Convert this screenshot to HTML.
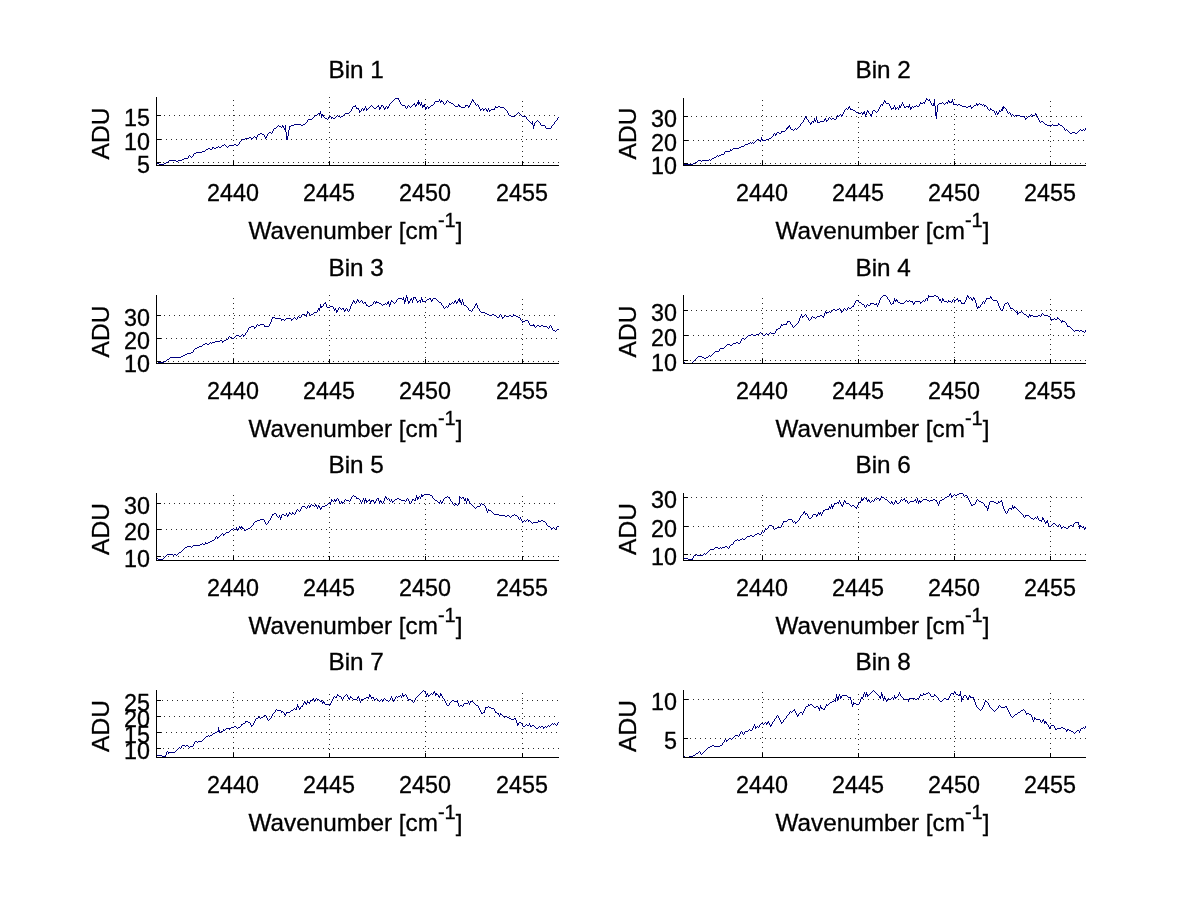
<!DOCTYPE html><html><head><meta charset="utf-8"><title>Bins</title><style>
html,body{margin:0;padding:0;background:#fff}body{width:1200px;height:901px;overflow:hidden}svg{display:block}text{font-family:"Liberation Sans",sans-serif;fill:#000;stroke:#000;stroke-width:.3px}
.ax{stroke:#000;stroke-width:1;shape-rendering:crispEdges;fill:none}.gr{stroke:#2b2b2b;stroke-width:1;stroke-dasharray:1 4;shape-rendering:crispEdges;fill:none}.cv{stroke:#00007f;stroke-width:1;fill:none;shape-rendering:crispEdges;transform:translate(.5px,0)}
</style></head><body>
<svg width="1200" height="901" viewBox="0 0 1200 901">
<rect width="1200" height="901" fill="#fff"/>
<g><line class="gr" x1="233.5" y1="161" x2="233.5" y2="97"/><line class="gr" x1="329.5" y1="158" x2="329.5" y2="97"/><line class="gr" x1="425.5" y1="160" x2="425.5" y2="97"/><line class="gr" x1="522.5" y1="157" x2="522.5" y2="97"/><line class="gr" x1="163" y1="162.5" x2="559" y2="162.5"/><line class="gr" x1="161" y1="139.5" x2="559" y2="139.5"/><line class="gr" x1="164" y1="115.5" x2="559" y2="115.5"/><path class="cv" d="M156 162v1M157 163v1M158 163v1M159 164v1M160 164v1M161 164v1M162 164v1M163 164v1M164 163v1M165 163v1M166 162v1M167 162v1M168 161v1M169 160v1M170 160v1M171 160v1M172 160v1M173 160v1M174 160v1M175 160v1M176 161v1M177 161v1M178 160v1M179 160v1M180 160v1M181 160v1M182 159v1M183 159v1M184 158v1M185 158v1M186 158v1M187 158v1M188 156v2M189 155v1M190 156v1M191 157v1M192 156v1M193 154v2M194 153v1M195 153v1M196 152v1M197 152v1M198 152v1M199 152v1M200 152v1M201 152v1M202 151v1M203 151v1M204 151v1M205 150v1M206 149v1M207 149v1M208 148v1M209 148v1M210 149v1M211 149v1M212 147v2M213 147v1M214 148v1M215 148v1M216 147v1M217 147v1M218 146v1M219 147v1M220 147v1M221 146v1M222 145v1M223 145v1M224 144v1M225 145v1M226 146v1M227 147v1M228 146v1M229 145v1M230 145v1M231 145v1M232 145v1M233 145v1M234 144v1M235 144v1M236 145v1M237 145v1M238 144v1M239 142v2M240 141v1M241 140v1M242 139v1M243 139v1M244 139v1M245 138v1M246 138v1M247 138v1M248 138v1M249 137v1M250 137v1M251 138v2M252 138v1M253 137v1M254 136v1M255 137v1M256 137v2M257 135v2M258 134v1M259 134v1M260 133v1M261 133v1M262 134v1M263 134v1M264 135v2M265 137v2M266 136v2M267 134v2M268 133v1M269 132v1M270 132v1M271 133v1M272 131v2M273 129v2M274 128v1M275 128v1M276 127v1M277 126v1M278 125v1M279 126v1M280 126v1M281 127v1M282 125v2M283 126v2M284 128v2M285 125v7M286 132v8M287 136v4M288 130v6M289 126v4M290 126v1M291 125v1M292 125v1M293 125v1M294 124v1M295 124v1M296 124v1M297 124v1M298 124v1M299 124v1M300 124v1M301 125v1M302 125v1M303 124v1M304 124v1M305 123v1M306 122v1M307 120v2M308 119v1M309 119v1M310 119v1M311 119v1M312 118v1M313 117v1M314 116v1M315 115v1M316 115v1M317 114v1M318 113v1M319 113v2M320 111v3M321 114v4M322 114v2M323 115v2M324 117v1M325 118v1M326 118v1M327 119v1M328 117v2M329 116v1M330 116v1M331 117v2M332 117v1M333 118v1M334 118v1M335 117v1M336 116v1M337 115v1M338 116v1M339 116v1M340 117v1M341 116v1M342 116v1M343 115v1M344 114v1M345 113v1M346 113v1M347 113v1M348 113v1M349 112v1M350 111v1M351 109v2M352 107v2M353 106v1M354 106v1M355 105v2M356 107v2M357 108v1M358 108v2M359 110v3M360 111v1M361 109v2M362 108v1M363 109v2M364 108v2M365 106v2M366 108v3M367 109v1M368 108v1M369 107v1M370 106v1M371 105v1M372 106v1M373 107v1M374 108v1M375 108v1M376 107v1M377 106v1M378 105v2M379 107v3M380 107v2M381 105v2M382 105v1M383 106v2M384 108v2M385 107v2M386 106v1M387 107v2M388 106v2M389 104v2M390 103v1M391 102v1M392 101v1M393 100v1M394 99v1M395 98v1M396 98v1M397 98v1M398 98v2M399 100v2M400 102v2M401 104v1M402 105v1M403 105v1M404 105v1M405 106v2M406 108v1M407 106v2M408 105v1M409 106v1M410 107v1M411 106v1M412 105v1M413 104v1M414 103v2M415 105v2M416 104v2M417 102v2M418 100v5M419 102v2M420 104v2M421 102v3M422 105v3M423 105v2M424 104v3M425 107v3M426 107v2M427 106v1M428 107v2M429 107v1M430 106v1M431 105v1M432 105v1M433 104v1M434 102v2M435 101v1M436 101v1M437 101v1M438 101v1M439 99v2M440 101v2M441 100v2M442 101v1M443 102v2M444 104v1M445 103v1M446 101v2M447 100v1M448 101v1M449 102v1M450 102v1M451 103v1M452 103v1M453 104v1M454 105v1M455 106v1M456 106v1M457 106v1M458 104v2M459 105v2M460 106v1M461 107v1M462 107v1M463 107v1M464 107v1M465 105v2M466 105v1M467 105v1M468 106v2M469 105v2M470 103v2M471 101v2M472 99v2M473 100v2M474 102v1M475 103v2M476 105v1M477 104v1M478 105v2M479 107v2M480 109v2M481 109v1M482 108v1M483 109v2M484 109v1M485 108v1M486 109v2M487 110v2M488 108v2M489 110v2M490 110v1M491 109v1M492 109v1M493 109v1M494 108v2M495 106v2M496 107v1M497 107v1M498 106v1M499 106v1M500 107v1M501 107v1M502 107v1M503 107v1M504 108v1M505 109v1M506 110v1M507 111v2M508 113v2M509 115v1M510 115v1M511 116v1M512 116v1M513 116v1M514 116v1M515 115v1M516 114v1M517 113v1M518 112v1M519 113v1M520 114v1M521 115v1M522 116v1M523 116v1M524 116v1M525 116v1M526 117v2M527 119v1M528 120v1M529 121v1M530 122v1M531 123v1M532 121v4M533 125v4M534 123v3M535 122v1M536 121v1M537 120v1M538 121v1M539 122v1M540 123v2M541 125v1M542 125v1M543 125v1M544 125v1M545 126v2M546 128v1M547 128v1M548 128v1M549 128v1M550 128v1M551 126v2M552 125v1M553 124v1M554 122v2M555 121v1M556 120v1M557 118v2M558 117v1"/><line class="ax" x1="156.5" y1="97" x2="156.5" y2="166"/><line class="ax" x1="156" y1="165.5" x2="559" y2="165.5"/><line class="ax" x1="233.5" y1="161" x2="233.5" y2="166"/><line class="ax" x1="329.5" y1="161" x2="329.5" y2="166"/><line class="ax" x1="425.5" y1="161" x2="425.5" y2="166"/><line class="ax" x1="522.5" y1="161" x2="522.5" y2="166"/><line class="ax" x1="156" y1="115.5" x2="161" y2="115.5"/><text x="150" y="126" font-size="23.33" text-anchor="end">15</text><line class="ax" x1="156" y1="139.5" x2="161" y2="139.5"/><text x="150" y="150" font-size="23.33" text-anchor="end">10</text><line class="ax" x1="156" y1="162.5" x2="161" y2="162.5"/><text x="150" y="173" font-size="23.33" text-anchor="end">5</text><text x="233" y="200.5" font-size="23.33" text-anchor="middle">2440</text><text x="329" y="200.5" font-size="23.33" text-anchor="middle">2445</text><text x="425" y="200.5" font-size="23.33" text-anchor="middle">2450</text><text x="522" y="200.5" font-size="23.33" text-anchor="middle">2455</text><text x="356.2" y="77.8" font-size="24.3" text-anchor="middle">Bin 1</text><text x="355.5" y="238.5" font-size="24.3" text-anchor="middle">Wavenumber [cm<tspan font-size="20" dy="-11.5">-1</tspan><tspan dy="11.5">]</tspan></text><text transform="translate(109,133.5) rotate(-90)" font-size="24.6" text-anchor="middle">ADU</text></g>
<g><line class="gr" x1="762.5" y1="161" x2="762.5" y2="98"/><line class="gr" x1="858.5" y1="158" x2="858.5" y2="98"/><line class="gr" x1="954.5" y1="160" x2="954.5" y2="98"/><line class="gr" x1="1050.5" y1="157" x2="1050.5" y2="98"/><line class="gr" x1="690" y1="163.5" x2="1086" y2="163.5"/><line class="gr" x1="688" y1="140.5" x2="1086" y2="140.5"/><line class="gr" x1="691" y1="116.5" x2="1086" y2="116.5"/><path class="cv" d="M683 164v1M684 164v1M685 164v1M686 164v1M687 164v1M688 164v1M689 164v1M690 164v1M691 164v1M692 164v1M693 163v1M694 163v1M695 162v1M696 162v1M697 161v1M698 160v1M699 160v1M700 160v1M701 161v1M702 160v1M703 160v1M704 160v1M705 160v1M706 160v1M707 160v1M708 160v1M709 159v1M710 160v1M711 159v1M712 158v1M713 158v1M714 157v1M715 157v1M716 156v1M717 155v1M718 156v1M719 155v1M720 155v1M721 154v1M722 154v1M723 154v1M724 152v2M725 151v1M726 151v1M727 151v1M728 151v1M729 151v1M730 149v2M731 150v1M732 149v1M733 148v1M734 148v1M735 148v1M736 148v1M737 148v1M738 148v1M739 147v1M740 147v1M741 146v1M742 146v1M743 146v1M744 145v1M745 144v1M746 144v1M747 144v1M748 143v1M749 143v1M750 142v1M751 143v1M752 142v1M753 143v1M754 142v1M755 141v1M756 140v1M757 139v1M758 139v1M759 140v1M760 140v2M761 137v3M762 139v2M763 140v1M764 140v1M765 140v1M766 139v1M767 139v1M768 139v1M769 138v1M770 138v1M771 137v1M772 136v1M773 134v2M774 133v1M775 134v2M776 133v2M777 132v1M778 132v1M779 133v1M780 133v1M781 131v2M782 131v1M783 131v1M784 131v1M785 130v1M786 128v2M787 127v2M788 126v2M789 125v2M790 127v2M791 129v1M792 129v1M793 130v1M794 129v1M795 128v1M796 129v1M797 128v1M798 127v1M799 126v1M800 124v2M801 123v1M802 122v1M803 120v2M804 118v2M805 116v2M806 117v2M807 119v1M808 120v2M809 122v1M810 123v2M811 122v2M812 121v1M813 121v2M814 118v3M815 120v2M816 117v3M817 120v3M818 122v1M819 122v1M820 121v1M821 121v1M822 121v1M823 121v1M824 119v2M825 118v2M826 120v2M827 120v1M828 118v2M829 117v1M830 118v1M831 119v1M832 118v1M833 118v1M834 119v1M835 119v1M836 117v2M837 115v2M838 116v1M839 115v1M840 114v1M841 115v2M842 114v2M843 112v2M844 110v2M845 109v1M846 108v1M847 109v1M848 107v2M849 106v2M850 108v2M851 109v1M852 109v1M853 110v1M854 110v1M855 111v1M856 112v1M857 112v1M858 113v1M859 113v1M860 113v1M861 112v1M862 113v2M863 112v2M864 111v3M865 114v3M866 112v3M867 110v2M868 111v2M869 113v1M870 114v2M871 114v3M872 111v3M873 110v1M874 110v1M875 111v1M876 112v1M877 111v1M878 109v2M879 107v2M880 105v2M881 104v1M882 104v2M883 102v2M884 100v2M885 101v2M886 103v1M887 103v1M888 103v1M889 104v2M890 106v2M891 108v2M892 108v1M893 107v2M894 105v2M895 107v3M896 108v1M897 107v1M898 108v2M899 105v3M900 106v2M901 104v2M902 102v2M903 104v2M904 106v2M905 107v1M906 106v1M907 106v1M908 106v2M909 104v3M910 107v3M911 107v2M912 106v1M913 107v1M914 106v1M915 106v1M916 105v1M917 106v1M918 106v1M919 104v2M920 102v2M921 103v1M922 103v1M923 102v1M924 102v2M925 100v2M926 98v2M927 99v1M928 100v1M929 99v2M930 101v2M931 103v2M932 105v1M933 103v3M934 99v7M935 106v10M936 112v7M937 105v7M938 104v1M939 103v1M940 103v1M941 103v1M942 102v1M943 103v1M944 104v1M945 103v1M946 102v1M947 102v2M948 100v2M949 101v2M950 102v1M951 101v2M952 99v3M953 102v3M954 104v1M955 104v1M956 104v1M957 105v1M958 104v1M959 104v1M960 105v1M961 105v1M962 106v1M963 106v1M964 106v1M965 106v1M966 107v1M967 107v1M968 106v1M969 106v1M970 105v2M971 107v2M972 107v1M973 106v1M974 105v1M975 105v1M976 103v2M977 104v2M978 104v1M979 103v1M980 104v1M981 104v1M982 105v1M983 104v1M984 105v2M985 105v1M986 106v1M987 107v2M988 109v1M989 110v1M990 108v2M991 109v1M992 110v1M993 110v1M994 111v2M995 113v2M996 111v2M997 113v2M998 112v2M999 110v2M1000 111v1M1001 109v2M1002 107v4M1003 106v3M1004 107v1M1005 108v1M1006 109v2M1007 111v2M1008 113v1M1009 112v1M1010 113v2M1011 115v1M1012 114v1M1013 115v1M1014 116v1M1015 115v1M1016 115v1M1017 115v1M1018 115v1M1019 115v1M1020 116v1M1021 116v1M1022 116v1M1023 116v1M1024 116v2M1025 118v2M1026 118v1M1027 117v1M1028 116v1M1029 116v1M1030 115v1M1031 114v1M1032 115v2M1033 115v1M1034 115v1M1035 113v2M1036 114v2M1037 116v2M1038 118v2M1039 120v2M1040 122v1M1041 121v1M1042 121v1M1043 122v1M1044 123v1M1045 124v1M1046 124v1M1047 125v1M1048 125v1M1049 125v1M1050 125v1M1051 125v1M1052 124v1M1053 125v1M1054 125v1M1055 125v1M1056 125v1M1057 125v1M1058 123v2M1059 124v1M1060 125v1M1061 125v1M1062 126v1M1063 127v1M1064 128v2M1065 130v1M1066 129v1M1067 130v1M1068 131v1M1069 132v1M1070 133v1M1071 133v1M1072 132v1M1073 132v1M1074 132v1M1075 133v1M1076 133v1M1077 132v1M1078 131v1M1079 130v1M1080 129v1M1081 130v1M1082 130v1M1083 129v1M1084 130v1M1085 128v2"/><line class="ax" x1="683.5" y1="98" x2="683.5" y2="166"/><line class="ax" x1="683" y1="165.5" x2="1086" y2="165.5"/><line class="ax" x1="762.5" y1="161" x2="762.5" y2="166"/><line class="ax" x1="858.5" y1="161" x2="858.5" y2="166"/><line class="ax" x1="954.5" y1="161" x2="954.5" y2="166"/><line class="ax" x1="1050.5" y1="161" x2="1050.5" y2="166"/><line class="ax" x1="683" y1="116.5" x2="688" y2="116.5"/><text x="677" y="127" font-size="23.33" text-anchor="end">30</text><line class="ax" x1="683" y1="140.5" x2="688" y2="140.5"/><text x="677" y="151" font-size="23.33" text-anchor="end">20</text><line class="ax" x1="683" y1="163.5" x2="688" y2="163.5"/><text x="677" y="174" font-size="23.33" text-anchor="end">10</text><text x="762" y="200.5" font-size="23.33" text-anchor="middle">2440</text><text x="858" y="200.5" font-size="23.33" text-anchor="middle">2445</text><text x="954" y="200.5" font-size="23.33" text-anchor="middle">2450</text><text x="1050" y="200.5" font-size="23.33" text-anchor="middle">2455</text><text x="883.2" y="77.8" font-size="24.3" text-anchor="middle">Bin 2</text><text x="882.5" y="238.5" font-size="24.3" text-anchor="middle">Wavenumber [cm<tspan font-size="20" dy="-11.5">-1</tspan><tspan dy="11.5">]</tspan></text><text transform="translate(636,133.5) rotate(-90)" font-size="24.6" text-anchor="middle">ADU</text></g>
<g><line class="gr" x1="233.5" y1="359" x2="233.5" y2="295"/><line class="gr" x1="329.5" y1="356" x2="329.5" y2="295"/><line class="gr" x1="425.5" y1="358" x2="425.5" y2="295"/><line class="gr" x1="522.5" y1="355" x2="522.5" y2="295"/><line class="gr" x1="163" y1="361.5" x2="559" y2="361.5"/><line class="gr" x1="161" y1="338.5" x2="559" y2="338.5"/><line class="gr" x1="164" y1="315.5" x2="559" y2="315.5"/><path class="cv" d="M156 361v1M157 361v1M158 362v1M159 362v1M160 362v1M161 362v1M162 362v1M163 362v1M164 361v1M165 361v1M166 360v1M167 359v1M168 359v1M169 358v1M170 357v1M171 357v1M172 357v1M173 357v1M174 357v1M175 357v1M176 357v1M177 357v1M178 357v1M179 357v1M180 357v1M181 356v1M182 356v1M183 355v1M184 355v1M185 354v1M186 354v1M187 353v1M188 353v1M189 353v1M190 353v1M191 352v1M192 352v1M193 350v2M194 349v1M195 348v1M196 348v1M197 347v1M198 347v1M199 346v1M200 346v1M201 346v1M202 345v1M203 344v1M204 344v1M205 343v1M206 343v1M207 344v1M208 344v1M209 343v1M210 342v1M211 343v1M212 342v1M213 342v1M214 342v1M215 341v1M216 341v1M217 341v1M218 341v1M219 341v1M220 340v1M221 340v1M222 341v2M223 341v1M224 340v1M225 340v1M226 339v1M227 339v1M228 337v2M229 336v1M230 337v1M231 337v1M232 338v1M233 338v1M234 337v1M235 336v1M236 335v1M237 335v1M238 335v1M239 336v1M240 336v1M241 335v1M242 334v1M243 335v2M244 335v1M245 333v2M246 332v1M247 330v2M248 328v2M249 327v1M250 327v1M251 326v1M252 326v1M253 326v1M254 327v2M255 327v1M256 325v2M257 324v1M258 325v1M259 325v1M260 324v1M261 324v1M262 324v1M263 324v1M264 325v2M265 326v1M266 326v1M267 326v1M268 326v1M269 324v2M270 322v2M271 319v3M272 317v2M273 317v1M274 317v1M275 318v1M276 318v1M277 318v1M278 318v1M279 318v1M280 318v1M281 319v2M282 319v1M283 319v1M284 320v1M285 319v1M286 318v1M287 318v1M288 318v1M289 318v1M290 318v1M291 319v2M292 319v1M293 318v1M294 317v1M295 318v1M296 319v1M297 317v2M298 316v1M299 317v1M300 317v1M301 315v2M302 314v1M303 314v1M304 314v1M305 315v1M306 314v3M307 311v3M308 312v1M309 313v2M310 315v1M311 314v1M312 314v1M313 313v1M314 312v1M315 312v1M316 312v1M317 310v2M318 308v2M319 308v3M320 304v4M321 306v2M322 306v1M323 304v2M324 303v1M325 302v2M326 304v3M327 307v1M328 307v1M329 307v1M330 306v1M331 306v1M332 306v1M333 307v2M334 309v2M335 308v2M336 310v3M337 310v2M338 308v2M339 307v1M340 308v1M341 309v1M342 308v1M343 308v2M344 310v2M345 309v2M346 308v1M347 309v2M348 311v1M349 309v2M350 306v3M351 304v2M352 302v2M353 300v2M354 301v2M355 303v1M356 301v2M357 299v2M358 300v2M359 302v1M360 301v1M361 300v1M362 301v2M363 303v1M364 302v1M365 302v2M366 304v2M367 305v1M368 306v1M369 306v1M370 305v1M371 305v1M372 304v1M373 302v2M374 301v1M375 302v2M376 301v2M377 302v1M378 302v1M379 303v1M380 303v1M381 304v1M382 305v1M383 304v1M384 304v1M385 303v1M386 304v1M387 302v2M388 301v3M389 304v3M390 302v3M391 300v2M392 301v1M393 302v1M394 303v1M395 302v1M396 300v2M397 299v1M398 298v1M399 298v1M400 298v1M401 298v1M402 299v1M403 297v3M404 300v4M405 298v4M406 295v3M407 297v4M408 301v3M409 301v2M410 299v2M411 298v2M412 300v3M413 297v3M414 297v1M415 297v2M416 299v2M417 301v2M418 301v1M419 300v1M420 300v3M421 297v3M422 299v3M423 301v1M424 301v1M425 301v1M426 300v1M427 299v1M428 299v1M429 298v1M430 298v2M431 300v2M432 299v2M433 298v1M434 298v1M435 298v1M436 299v1M437 300v1M438 301v1M439 302v1M440 302v1M441 303v2M442 305v1M443 306v2M444 308v1M445 307v1M446 306v1M447 307v1M448 305v2M449 303v2M450 304v1M451 303v1M452 302v1M453 303v1M454 301v2M455 300v2M456 302v2M457 301v2M458 299v2M459 298v4M460 300v3M461 302v3M462 299v3M463 302v3M464 305v1M465 305v1M466 306v1M467 307v1M468 308v2M469 310v1M470 310v1M471 311v1M472 309v2M473 308v1M474 306v2M475 304v2M476 303v2M477 305v3M478 308v1M479 309v2M480 311v1M481 312v1M482 312v1M483 312v1M484 312v1M485 313v1M486 313v1M487 314v1M488 314v1M489 315v1M490 315v1M491 315v1M492 314v1M493 314v1M494 315v1M495 315v1M496 316v1M497 317v1M498 317v1M499 315v2M500 314v1M501 315v2M502 317v2M503 317v1M504 316v1M505 315v1M506 316v1M507 316v1M508 316v1M509 315v1M510 315v1M511 316v1M512 316v1M513 314v2M514 315v1M515 315v1M516 316v1M517 316v1M518 317v1M519 317v1M520 318v2M521 320v1M522 321v2M523 321v1M524 321v1M525 320v1M526 320v1M527 320v1M528 321v2M529 323v2M530 325v1M531 325v1M532 325v1M533 324v2M534 325v2M535 327v1M536 326v1M537 325v1M538 325v1M539 326v1M540 326v1M541 325v1M542 325v1M543 326v1M544 326v1M545 326v1M546 326v1M547 327v1M548 328v1M549 326v2M550 325v1M551 326v2M552 328v2M553 330v1M554 330v1M555 331v1M556 330v1M557 329v1M558 329v1"/><line class="ax" x1="156.5" y1="295" x2="156.5" y2="364"/><line class="ax" x1="156" y1="363.5" x2="559" y2="363.5"/><line class="ax" x1="233.5" y1="359" x2="233.5" y2="364"/><line class="ax" x1="329.5" y1="359" x2="329.5" y2="364"/><line class="ax" x1="425.5" y1="359" x2="425.5" y2="364"/><line class="ax" x1="522.5" y1="359" x2="522.5" y2="364"/><line class="ax" x1="156" y1="315.5" x2="161" y2="315.5"/><text x="150" y="326" font-size="23.33" text-anchor="end">30</text><line class="ax" x1="156" y1="338.5" x2="161" y2="338.5"/><text x="150" y="349" font-size="23.33" text-anchor="end">20</text><line class="ax" x1="156" y1="361.5" x2="161" y2="361.5"/><text x="150" y="372" font-size="23.33" text-anchor="end">10</text><text x="233" y="398.5" font-size="23.33" text-anchor="middle">2440</text><text x="329" y="398.5" font-size="23.33" text-anchor="middle">2445</text><text x="425" y="398.5" font-size="23.33" text-anchor="middle">2450</text><text x="522" y="398.5" font-size="23.33" text-anchor="middle">2455</text><text x="356.2" y="275.8" font-size="24.3" text-anchor="middle">Bin 3</text><text x="355.5" y="436.5" font-size="24.3" text-anchor="middle">Wavenumber [cm<tspan font-size="20" dy="-11.5">-1</tspan><tspan dy="11.5">]</tspan></text><text transform="translate(109,331.5) rotate(-90)" font-size="24.6" text-anchor="middle">ADU</text></g>
<g><line class="gr" x1="762.5" y1="359" x2="762.5" y2="295"/><line class="gr" x1="858.5" y1="356" x2="858.5" y2="295"/><line class="gr" x1="954.5" y1="358" x2="954.5" y2="295"/><line class="gr" x1="1050.5" y1="355" x2="1050.5" y2="295"/><line class="gr" x1="690" y1="360.5" x2="1086" y2="360.5"/><line class="gr" x1="688" y1="335.5" x2="1086" y2="335.5"/><line class="gr" x1="691" y1="310.5" x2="1086" y2="310.5"/><path class="cv" d="M683 362v1M684 362v1M685 363v1M686 363v1M687 363v1M688 363v1M689 363v1M690 363v1M691 363v1M692 362v1M693 361v1M694 360v1M695 359v1M696 358v1M697 357v1M698 356v1M699 356v1M700 356v1M701 356v1M702 357v1M703 357v1M704 358v1M705 358v1M706 357v1M707 357v1M708 356v1M709 355v1M710 356v1M711 355v1M712 354v1M713 353v1M714 352v1M715 351v1M716 351v1M717 351v1M718 351v1M719 349v2M720 348v1M721 348v1M722 348v1M723 348v1M724 347v1M725 346v1M726 345v1M727 344v1M728 344v1M729 344v1M730 345v1M731 345v1M732 344v1M733 343v1M734 343v1M735 343v1M736 342v1M737 342v1M738 343v1M739 343v1M740 341v2M741 339v2M742 338v1M743 338v1M744 339v1M745 338v1M746 337v1M747 336v1M748 335v1M749 335v1M750 335v1M751 334v1M752 334v1M753 335v1M754 335v1M755 335v1M756 334v1M757 334v1M758 334v1M759 333v1M760 332v1M761 333v1M762 334v1M763 335v1M764 335v1M765 334v1M766 333v1M767 334v1M768 334v1M769 333v1M770 332v1M771 333v1M772 333v1M773 333v1M774 333v1M775 331v2M776 329v2M777 329v1M778 328v1M779 328v1M780 326v2M781 324v2M782 325v1M783 324v1M784 324v1M785 324v1M786 323v2M787 321v2M788 321v1M789 321v1M790 322v2M791 324v1M792 325v2M793 327v1M794 326v1M795 325v1M796 324v1M797 323v1M798 321v2M799 318v3M800 316v2M801 314v2M802 316v2M803 316v1M804 315v1M805 314v1M806 315v2M807 317v1M808 318v2M809 320v1M810 319v1M811 317v2M812 316v1M813 317v1M814 317v1M815 318v1M816 317v1M817 316v1M818 316v1M819 316v1M820 315v1M821 315v1M822 316v1M823 316v2M824 313v3M825 311v2M826 312v2M827 312v1M828 312v1M829 311v1M830 312v1M831 311v1M832 310v1M833 309v1M834 309v1M835 310v1M836 310v1M837 309v1M838 309v1M839 308v1M840 309v2M841 311v2M842 311v1M843 309v2M844 308v1M845 309v1M846 310v1M847 308v2M848 307v1M849 308v1M850 308v1M851 307v1M852 306v1M853 305v2M854 303v2M855 301v2M856 300v1M857 300v1M858 301v1M859 302v1M860 302v1M861 303v1M862 304v1M863 304v1M864 305v2M865 307v1M866 305v2M867 304v1M868 305v1M869 305v1M870 303v2M871 303v1M872 303v1M873 303v1M874 304v1M875 304v1M876 303v2M877 305v2M878 303v2M879 300v3M880 298v2M881 297v1M882 296v1M883 295v1M884 295v1M885 295v1M886 296v1M887 297v2M888 299v1M889 300v2M890 302v2M891 304v1M892 303v1M893 301v3M894 298v3M895 300v2M896 299v2M897 300v2M898 302v1M899 302v1M900 303v1M901 303v1M902 303v1M903 303v1M904 302v1M905 301v1M906 300v1M907 301v1M908 301v1M909 300v1M910 301v1M911 301v1M912 301v2M913 303v2M914 302v2M915 301v1M916 301v1M917 301v1M918 301v1M919 301v1M920 302v2M921 302v1M922 301v1M923 300v1M924 301v1M925 299v2M926 298v1M927 298v3M928 295v3M929 296v1M930 296v1M931 296v1M932 296v1M933 296v1M934 295v1M935 295v1M936 296v1M937 296v1M938 297v2M939 299v2M940 299v2M941 301v2M942 298v3M943 299v2M944 301v1M945 301v1M946 301v1M947 302v1M948 300v2M949 301v1M950 301v1M951 302v1M952 300v2M953 299v1M954 300v2M955 300v1M956 299v1M957 298v2M958 300v2M959 300v1M960 300v2M961 302v2M962 303v1M963 303v1M964 302v2M965 300v2M966 297v3M967 295v2M968 296v2M969 298v1M970 297v1M971 298v2M972 299v2M973 297v2M974 298v2M975 300v3M976 303v4M977 307v2M978 306v2M979 307v1M980 305v2M981 304v1M982 302v2M983 301v1M984 302v2M985 300v2M986 298v2M987 298v1M988 298v1M989 298v1M990 296v2M991 297v2M992 299v1M993 300v1M994 300v1M995 300v1M996 300v1M997 301v2M998 303v3M999 306v2M1000 308v2M1001 310v1M1002 309v2M1003 306v3M1004 304v2M1005 303v1M1006 303v1M1007 302v1M1008 303v2M1009 305v2M1010 307v2M1011 308v1M1012 308v1M1013 309v1M1014 310v1M1015 311v1M1016 312v1M1017 311v4M1018 313v1M1019 312v1M1020 312v1M1021 311v1M1022 312v1M1023 313v1M1024 314v1M1025 314v1M1026 315v1M1027 316v1M1028 316v2M1029 314v2M1030 315v2M1031 315v1M1032 315v1M1033 316v1M1034 316v1M1035 316v1M1036 316v1M1037 316v1M1038 315v1M1039 315v1M1040 316v1M1041 314v2M1042 313v1M1043 314v1M1044 315v1M1045 315v1M1046 315v1M1047 315v1M1048 316v1M1049 316v1M1050 317v2M1051 319v2M1052 319v1M1053 319v1M1054 318v1M1055 319v1M1056 319v1M1057 317v2M1058 318v1M1059 319v1M1060 320v1M1061 321v2M1062 320v2M1063 321v1M1064 321v1M1065 322v1M1066 323v2M1067 325v2M1068 326v1M1069 326v1M1070 327v1M1071 328v1M1072 329v1M1073 330v1M1074 331v1M1075 330v1M1076 330v1M1077 330v1M1078 330v1M1079 331v1M1080 330v1M1081 330v1M1082 331v1M1083 331v1M1084 332v1M1085 330v2"/><line class="ax" x1="683.5" y1="295" x2="683.5" y2="364"/><line class="ax" x1="683" y1="363.5" x2="1086" y2="363.5"/><line class="ax" x1="762.5" y1="359" x2="762.5" y2="364"/><line class="ax" x1="858.5" y1="359" x2="858.5" y2="364"/><line class="ax" x1="954.5" y1="359" x2="954.5" y2="364"/><line class="ax" x1="1050.5" y1="359" x2="1050.5" y2="364"/><line class="ax" x1="683" y1="310.5" x2="688" y2="310.5"/><text x="677" y="321" font-size="23.33" text-anchor="end">30</text><line class="ax" x1="683" y1="335.5" x2="688" y2="335.5"/><text x="677" y="346" font-size="23.33" text-anchor="end">20</text><line class="ax" x1="683" y1="360.5" x2="688" y2="360.5"/><text x="677" y="371" font-size="23.33" text-anchor="end">10</text><text x="762" y="398.5" font-size="23.33" text-anchor="middle">2440</text><text x="858" y="398.5" font-size="23.33" text-anchor="middle">2445</text><text x="954" y="398.5" font-size="23.33" text-anchor="middle">2450</text><text x="1050" y="398.5" font-size="23.33" text-anchor="middle">2455</text><text x="883.2" y="275.8" font-size="24.3" text-anchor="middle">Bin 4</text><text x="882.5" y="436.5" font-size="24.3" text-anchor="middle">Wavenumber [cm<tspan font-size="20" dy="-11.5">-1</tspan><tspan dy="11.5">]</tspan></text><text transform="translate(636,331.5) rotate(-90)" font-size="24.6" text-anchor="middle">ADU</text></g>
<g><line class="gr" x1="233.5" y1="556" x2="233.5" y2="493"/><line class="gr" x1="329.5" y1="553" x2="329.5" y2="493"/><line class="gr" x1="425.5" y1="555" x2="425.5" y2="493"/><line class="gr" x1="522.5" y1="552" x2="522.5" y2="493"/><line class="gr" x1="163" y1="556.5" x2="559" y2="556.5"/><line class="gr" x1="161" y1="529.5" x2="559" y2="529.5"/><line class="gr" x1="164" y1="503.5" x2="559" y2="503.5"/><path class="cv" d="M156 558v1M157 558v1M158 559v1M159 559v1M160 559v1M161 559v1M162 559v1M163 558v1M164 557v1M165 556v1M166 555v1M167 554v1M168 554v1M169 554v1M170 554v1M171 554v1M172 554v1M173 555v1M174 554v1M175 554v1M176 555v1M177 554v1M178 553v1M179 552v1M180 552v1M181 551v1M182 550v1M183 549v1M184 548v1M185 547v1M186 547v1M187 546v1M188 546v1M189 546v1M190 546v1M191 547v1M192 546v1M193 545v1M194 545v1M195 545v1M196 545v1M197 545v1M198 545v1M199 545v1M200 544v1M201 544v1M202 543v1M203 544v1M204 544v1M205 542v2M206 543v1M207 543v1M208 542v1M209 542v1M210 541v1M211 541v1M212 540v1M213 540v1M214 539v1M215 537v2M216 536v1M217 537v2M218 537v1M219 536v1M220 535v1M221 534v1M222 533v1M223 534v2M224 534v1M225 533v1M226 532v1M227 532v1M228 532v1M229 531v1M230 530v1M231 529v1M232 529v1M233 528v1M234 529v1M235 529v1M236 527v2M237 529v2M238 528v2M239 526v2M240 527v2M241 526v2M242 527v2M243 528v1M244 529v2M245 530v1M246 529v1M247 529v1M248 528v1M249 528v1M250 527v1M251 526v1M252 525v1M253 523v2M254 522v1M255 521v1M256 521v1M257 520v1M258 520v1M259 520v1M260 519v1M261 519v1M262 519v1M263 519v1M264 520v2M265 522v2M266 524v1M267 523v1M268 521v2M269 520v1M270 518v2M271 516v2M272 514v2M273 514v1M274 513v1M275 513v1M276 514v2M277 516v1M278 517v1M279 515v2M280 517v3M281 515v3M282 514v1M283 514v1M284 515v1M285 515v1M286 513v2M287 515v2M288 514v2M289 512v2M290 513v1M291 514v1M292 512v2M293 513v1M294 514v1M295 512v2M296 510v2M297 509v1M298 510v1M299 511v1M300 509v2M301 507v2M302 506v1M303 506v1M304 506v1M305 507v1M306 508v1M307 506v2M308 505v1M309 506v2M310 505v2M311 504v1M312 505v1M313 505v1M314 506v1M315 504v2M316 505v2M317 507v2M318 505v2M319 506v2M320 508v2M321 507v2M322 506v1M323 506v1M324 506v1M325 505v1M326 505v1M327 504v1M328 503v1M329 503v1M330 502v3M331 499v3M332 500v1M333 501v1M334 499v2M335 500v2M336 499v2M337 498v1M338 499v2M339 501v2M340 503v1M341 501v2M342 502v2M343 502v1M344 500v2M345 499v1M346 500v1M347 500v1M348 500v1M349 501v1M350 499v2M351 497v2M352 496v1M353 495v1M354 496v1M355 496v1M356 497v2M357 498v1M358 498v1M359 499v1M360 500v2M361 502v2M362 500v2M363 498v2M364 500v3M365 498v3M366 500v3M367 501v1M368 500v1M369 499v2M370 501v3M371 500v2M372 500v1M373 500v2M374 502v2M375 501v2M376 499v2M377 498v1M378 498v3M379 501v3M380 500v2M381 501v2M382 503v1M383 501v2M384 498v3M385 496v2M386 497v2M387 499v1M388 498v1M389 499v2M390 501v1M391 499v2M392 501v2M393 501v1M394 500v1M395 499v1M396 499v1M397 498v1M398 498v1M399 499v1M400 499v1M401 500v1M402 500v1M403 500v1M404 500v1M405 501v1M406 499v2M407 498v1M408 499v2M409 501v2M410 503v1M411 501v2M412 499v2M413 499v1M414 500v1M415 498v3M416 495v3M417 497v3M418 497v2M419 496v1M420 497v2M421 494v3M422 495v2M423 495v1M424 494v1M425 494v1M426 494v1M427 494v1M428 494v1M429 494v1M430 495v1M431 495v1M432 496v2M433 498v1M434 499v1M435 500v1M436 500v1M437 501v1M438 502v1M439 502v2M440 500v2M441 502v2M442 501v2M443 499v2M444 498v1M445 497v1M446 497v1M447 496v1M448 497v1M449 497v2M450 499v2M451 501v1M452 502v2M453 504v1M454 505v1M455 503v2M456 504v1M457 505v1M458 503v2M459 496v7M460 497v1M461 498v1M462 497v1M463 497v2M464 499v2M465 498v3M466 501v3M467 498v3M468 499v2M469 501v2M470 503v1M471 504v1M472 505v1M473 506v1M474 507v1M475 508v1M476 507v1M477 506v1M478 506v1M479 506v1M480 504v2M481 503v1M482 504v1M483 504v1M484 505v1M485 506v2M486 508v3M487 511v2M488 509v2M489 510v1M490 510v1M491 511v1M492 512v1M493 513v1M494 514v1M495 514v1M496 514v1M497 514v1M498 514v1M499 515v1M500 515v1M501 515v1M502 515v1M503 515v1M504 515v1M505 516v1M506 516v1M507 515v1M508 515v1M509 516v1M510 517v1M511 516v1M512 515v1M513 515v1M514 514v1M515 515v1M516 515v1M517 516v1M518 517v2M519 519v1M520 517v2M521 519v2M522 521v2M523 521v1M524 520v1M525 521v1M526 520v1M527 519v1M528 520v2M529 520v1M530 521v1M531 522v1M532 523v1M533 522v1M534 522v1M535 522v1M536 522v1M537 522v1M538 520v2M539 521v1M540 521v1M541 520v1M542 520v1M543 521v1M544 521v1M545 522v1M546 523v2M547 525v1M548 526v1M549 526v1M550 527v1M551 528v2M552 528v1M553 527v1M554 528v1M555 529v1M556 527v2M557 526v1M558 526v1"/><line class="ax" x1="156.5" y1="493" x2="156.5" y2="561"/><line class="ax" x1="156" y1="560.5" x2="559" y2="560.5"/><line class="ax" x1="233.5" y1="556" x2="233.5" y2="561"/><line class="ax" x1="329.5" y1="556" x2="329.5" y2="561"/><line class="ax" x1="425.5" y1="556" x2="425.5" y2="561"/><line class="ax" x1="522.5" y1="556" x2="522.5" y2="561"/><line class="ax" x1="156" y1="503.5" x2="161" y2="503.5"/><text x="150" y="514" font-size="23.33" text-anchor="end">30</text><line class="ax" x1="156" y1="529.5" x2="161" y2="529.5"/><text x="150" y="540" font-size="23.33" text-anchor="end">20</text><line class="ax" x1="156" y1="556.5" x2="161" y2="556.5"/><text x="150" y="567" font-size="23.33" text-anchor="end">10</text><text x="233" y="595.5" font-size="23.33" text-anchor="middle">2440</text><text x="329" y="595.5" font-size="23.33" text-anchor="middle">2445</text><text x="425" y="595.5" font-size="23.33" text-anchor="middle">2450</text><text x="522" y="595.5" font-size="23.33" text-anchor="middle">2455</text><text x="356.2" y="472.8" font-size="24.3" text-anchor="middle">Bin 5</text><text x="355.5" y="633.5" font-size="24.3" text-anchor="middle">Wavenumber [cm<tspan font-size="20" dy="-11.5">-1</tspan><tspan dy="11.5">]</tspan></text><text transform="translate(109,529) rotate(-90)" font-size="24.6" text-anchor="middle">ADU</text></g>
<g><line class="gr" x1="762.5" y1="556" x2="762.5" y2="493"/><line class="gr" x1="858.5" y1="553" x2="858.5" y2="493"/><line class="gr" x1="954.5" y1="555" x2="954.5" y2="493"/><line class="gr" x1="1050.5" y1="552" x2="1050.5" y2="493"/><line class="gr" x1="690" y1="554.5" x2="1086" y2="554.5"/><line class="gr" x1="688" y1="526.5" x2="1086" y2="526.5"/><line class="gr" x1="691" y1="497.5" x2="1086" y2="497.5"/><path class="cv" d="M683 557v1M684 558v1M685 558v1M686 558v1M687 558v1M688 559v1M689 559v1M690 559v1M691 559v1M692 558v2M693 556v2M694 555v1M695 555v1M696 554v1M697 555v1M698 555v1M699 555v1M700 555v1M701 555v1M702 555v1M703 554v1M704 553v1M705 554v1M706 553v1M707 552v1M708 551v1M709 550v1M710 549v1M711 549v1M712 549v1M713 549v1M714 548v1M715 547v1M716 547v1M717 547v1M718 548v1M719 548v1M720 547v1M721 548v1M722 547v1M723 547v1M724 547v1M725 546v1M726 546v1M727 547v1M728 548v1M729 546v2M730 545v1M731 544v1M732 544v1M733 542v2M734 541v1M735 540v1M736 540v1M737 539v1M738 540v1M739 540v1M740 539v1M741 539v1M742 538v1M743 539v1M744 539v1M745 538v1M746 537v1M747 536v1M748 536v1M749 536v1M750 535v1M751 535v1M752 536v1M753 536v1M754 535v1M755 534v1M756 534v1M757 533v1M758 533v1M759 534v1M760 534v1M761 532v2M762 531v1M763 532v1M764 530v2M765 528v2M766 529v1M767 528v1M768 526v2M769 525v1M770 525v1M771 525v1M772 526v1M773 527v2M774 529v1M775 528v1M776 528v1M777 527v1M778 527v1M779 527v1M780 527v1M781 525v2M782 523v2M783 521v2M784 521v1M785 521v1M786 521v1M787 520v1M788 519v1M789 519v1M790 519v1M791 519v1M792 520v2M793 522v1M794 521v1M795 522v2M796 522v1M797 521v1M798 520v1M799 518v2M800 516v2M801 515v1M802 514v1M803 512v2M804 511v2M805 513v2M806 513v1M807 514v2M808 516v2M809 518v1M810 518v1M811 517v1M812 515v2M813 514v1M814 514v1M815 514v1M816 515v2M817 514v2M818 512v2M819 513v2M820 512v2M821 514v2M822 512v2M823 510v2M824 510v1M825 509v1M826 509v1M827 509v1M828 508v2M829 506v2M830 507v2M831 504v3M832 506v3M833 505v2M834 503v2M835 503v1M836 503v1M837 502v1M838 502v2M839 500v2M840 502v2M841 504v2M842 505v2M843 502v3M844 500v2M845 501v2M846 503v1M847 503v1M848 503v1M849 504v1M850 505v1M851 506v1M852 505v1M853 505v1M854 506v1M855 507v1M856 507v2M857 505v2M858 503v2M859 502v1M860 501v2M861 498v3M862 499v2M863 498v2M864 497v1M865 498v1M866 498v2M867 500v2M868 499v2M869 500v2M870 502v1M871 501v1M872 500v1M873 501v1M874 499v2M875 498v1M876 499v1M877 498v1M878 498v1M879 499v2M880 498v2M881 496v2M882 497v1M883 497v1M884 498v1M885 499v1M886 499v1M887 500v1M888 501v1M889 502v1M890 503v1M891 501v2M892 502v2M893 504v1M894 502v2M895 500v2M896 501v2M897 503v1M898 503v1M899 502v1M900 500v2M901 499v1M902 500v1M903 499v1M904 498v2M905 500v2M906 500v1M907 501v2M908 503v1M909 502v1M910 501v1M911 501v1M912 501v1M913 501v1M914 500v1M915 499v2M916 501v2M917 498v3M918 501v3M919 500v2M920 501v2M921 501v1M922 500v1M923 499v1M924 499v1M925 499v1M926 499v1M927 500v1M928 500v1M929 501v1M930 500v1M931 500v1M932 500v1M933 499v1M934 499v1M935 500v1M936 500v2M937 502v2M938 504v2M939 501v3M940 500v1M941 500v1M942 499v1M943 499v1M944 498v1M945 497v1M946 497v1M947 496v1M948 496v1M949 494v2M950 493v2M951 495v3M952 496v1M953 495v1M954 494v1M955 495v1M956 495v1M957 494v1M958 494v1M959 493v1M960 493v1M961 493v1M962 493v1M963 494v2M964 496v1M965 495v1M966 495v1M967 496v2M968 498v2M969 500v2M970 502v2M971 504v2M972 505v1M973 504v1M974 504v1M975 502v2M976 500v2M977 499v1M978 500v1M979 501v1M980 501v1M981 502v1M982 502v1M983 503v1M984 504v2M985 506v1M986 506v2M987 508v3M988 505v4M989 502v3M990 501v1M991 501v1M992 501v1M993 501v1M994 502v1M995 502v1M996 503v1M997 503v1M998 501v2M999 502v1M1000 501v1M1001 500v2M1002 502v4M1003 506v3M1004 509v2M1005 511v2M1006 513v1M1007 511v2M1008 509v2M1009 508v1M1010 508v1M1011 508v2M1012 505v3M1013 507v2M1014 506v2M1015 507v1M1016 508v1M1017 509v1M1018 510v1M1019 511v1M1020 512v1M1021 513v1M1022 514v1M1023 515v2M1024 517v1M1025 515v2M1026 515v1M1027 515v1M1028 515v1M1029 516v1M1030 517v1M1031 518v1M1032 518v1M1033 519v1M1034 518v1M1035 517v1M1036 518v1M1037 516v2M1038 518v2M1039 520v1M1040 520v1M1041 520v2M1042 517v3M1043 518v2M1044 520v2M1045 522v2M1046 521v2M1047 520v3M1048 523v3M1049 526v1M1050 526v1M1051 525v1M1052 524v1M1053 523v1M1054 523v1M1055 524v1M1056 525v1M1057 526v1M1058 525v1M1059 524v1M1060 525v2M1061 527v2M1062 527v1M1063 526v1M1064 527v1M1065 527v1M1066 528v1M1067 528v1M1068 527v1M1069 526v1M1070 525v1M1071 525v1M1072 526v1M1073 524v2M1074 523v1M1075 522v1M1076 522v1M1077 522v1M1078 522v3M1079 525v4M1080 525v2M1081 526v1M1082 527v1M1083 526v2M1084 528v2M1085 527v2"/><line class="ax" x1="683.5" y1="493" x2="683.5" y2="561"/><line class="ax" x1="683" y1="560.5" x2="1086" y2="560.5"/><line class="ax" x1="762.5" y1="556" x2="762.5" y2="561"/><line class="ax" x1="858.5" y1="556" x2="858.5" y2="561"/><line class="ax" x1="954.5" y1="556" x2="954.5" y2="561"/><line class="ax" x1="1050.5" y1="556" x2="1050.5" y2="561"/><line class="ax" x1="683" y1="497.5" x2="688" y2="497.5"/><text x="677" y="508" font-size="23.33" text-anchor="end">30</text><line class="ax" x1="683" y1="526.5" x2="688" y2="526.5"/><text x="677" y="537" font-size="23.33" text-anchor="end">20</text><line class="ax" x1="683" y1="554.5" x2="688" y2="554.5"/><text x="677" y="565" font-size="23.33" text-anchor="end">10</text><text x="762" y="595.5" font-size="23.33" text-anchor="middle">2440</text><text x="858" y="595.5" font-size="23.33" text-anchor="middle">2445</text><text x="954" y="595.5" font-size="23.33" text-anchor="middle">2450</text><text x="1050" y="595.5" font-size="23.33" text-anchor="middle">2455</text><text x="883.2" y="472.8" font-size="24.3" text-anchor="middle">Bin 6</text><text x="882.5" y="633.5" font-size="24.3" text-anchor="middle">Wavenumber [cm<tspan font-size="20" dy="-11.5">-1</tspan><tspan dy="11.5">]</tspan></text><text transform="translate(636,529) rotate(-90)" font-size="24.6" text-anchor="middle">ADU</text></g>
<g><line class="gr" x1="233.5" y1="753" x2="233.5" y2="690"/><line class="gr" x1="329.5" y1="750" x2="329.5" y2="690"/><line class="gr" x1="425.5" y1="752" x2="425.5" y2="690"/><line class="gr" x1="522.5" y1="749" x2="522.5" y2="690"/><line class="gr" x1="163" y1="748.5" x2="559" y2="748.5"/><line class="gr" x1="161" y1="732.5" x2="559" y2="732.5"/><line class="gr" x1="164" y1="716.5" x2="559" y2="716.5"/><line class="gr" x1="162" y1="700.5" x2="559" y2="700.5"/><path class="cv" d="M156 755v1M157 755v1M158 755v1M159 755v1M160 755v1M161 755v1M162 756v1M163 756v1M164 756v1M165 755v2M166 752v3M167 751v1M168 752v2M169 752v1M170 752v1M171 752v1M172 752v1M173 752v1M174 752v1M175 751v1M176 750v1M177 749v1M178 748v1M179 747v1M180 748v1M181 746v2M182 745v1M183 745v1M184 745v1M185 746v1M186 745v1M187 745v1M188 746v1M189 747v1M190 746v1M191 746v1M192 746v1M193 744v2M194 742v2M195 741v1M196 741v1M197 742v1M198 741v1M199 741v1M200 741v1M201 741v1M202 740v1M203 739v1M204 738v1M205 737v1M206 736v1M207 736v1M208 735v1M209 736v1M210 735v1M211 735v1M212 734v1M213 733v1M214 733v1M215 732v1M216 732v1M217 731v1M218 727v5M219 730v3M220 732v1M221 731v1M222 731v1M223 729v2M224 730v1M225 729v1M226 728v1M227 728v1M228 728v1M229 728v2M230 728v1M231 727v1M232 727v1M233 727v1M234 726v1M235 726v1M236 727v1M237 728v1M238 727v1M239 727v1M240 726v1M241 724v2M242 724v1M243 723v1M244 723v1M245 721v2M246 721v1M247 721v1M248 722v1M249 722v1M250 723v2M251 725v2M252 725v1M253 723v2M254 721v2M255 719v2M256 718v1M257 718v1M258 716v2M259 717v1M260 718v1M261 717v1M262 717v1M263 716v1M264 715v1M265 715v1M266 716v2M267 718v2M268 720v1M269 719v1M270 718v1M271 716v2M272 714v2M273 713v1M274 712v1M275 710v2M276 709v1M277 710v1M278 710v1M279 710v1M280 710v1M281 711v2M282 711v1M283 712v1M284 713v2M285 714v2M286 712v2M287 712v1M288 712v1M289 712v1M290 711v1M291 710v1M292 710v1M293 709v1M294 708v1M295 709v1M296 707v3M297 704v3M298 706v2M299 708v2M300 707v2M301 706v1M302 705v2M303 703v2M304 701v2M305 702v2M306 703v2M307 701v2M308 702v1M309 702v2M310 700v2M311 700v1M312 699v1M313 698v2M314 700v2M315 699v2M316 698v1M317 699v1M318 699v1M319 700v1M320 701v1M321 700v2M322 702v2M323 701v2M324 702v2M325 704v1M326 704v1M327 704v1M328 704v1M329 705v1M330 703v2M331 701v2M332 699v2M333 697v2M334 696v1M335 697v1M336 696v2M337 694v2M338 695v1M339 696v1M340 696v1M341 697v2M342 699v1M343 697v2M344 696v1M345 695v1M346 694v1M347 695v2M348 697v2M349 698v2M350 696v2M351 697v1M352 698v1M353 699v1M354 699v1M355 699v1M356 699v1M357 697v2M358 696v2M359 698v3M360 701v2M361 699v2M362 699v1M363 699v1M364 698v1M365 698v1M366 697v1M367 697v1M368 697v2M369 694v3M370 695v2M371 697v2M372 697v1M373 697v2M374 699v2M375 699v1M376 698v1M377 699v1M378 700v1M379 701v1M380 700v1M381 699v1M382 700v2M383 699v2M384 698v1M385 699v1M386 700v1M387 700v1M388 701v1M389 700v1M390 698v2M391 696v2M392 698v2M393 700v2M394 699v2M395 697v2M396 696v1M397 697v1M398 696v1M399 696v1M400 695v1M401 696v2M402 693v3M403 695v2M404 695v1M405 694v1M406 695v2M407 697v2M408 699v2M409 699v1M410 699v1M411 700v1M412 701v1M413 702v1M414 700v2M415 698v2M416 697v1M417 696v1M418 695v1M419 694v1M420 693v1M421 692v1M422 691v1M423 690v1M424 691v1M425 691v3M426 694v3M427 693v2M428 695v2M429 695v1M430 694v1M431 693v1M432 694v1M433 692v2M434 691v2M435 693v3M436 693v2M437 694v1M438 695v2M439 696v2M440 693v3M441 694v2M442 696v2M443 698v1M444 699v2M445 701v2M446 703v2M447 705v1M448 705v1M449 703v2M450 702v1M451 701v1M452 700v1M453 700v1M454 701v1M455 701v1M456 701v1M457 700v3M458 703v3M459 706v1M460 705v1M461 705v1M462 706v1M463 704v2M464 703v1M465 703v1M466 703v1M467 703v1M468 701v2M469 703v2M470 701v2M471 701v1M472 701v1M473 702v1M474 703v1M475 704v1M476 705v1M477 705v1M478 706v2M479 708v2M480 710v2M481 712v2M482 713v1M483 712v1M484 710v3M485 707v3M486 707v1M487 707v1M488 706v1M489 707v1M490 707v1M491 708v1M492 708v1M493 708v1M494 709v2M495 711v2M496 712v1M497 713v1M498 713v2M499 715v2M500 713v2M501 714v1M502 715v1M503 716v1M504 717v1M505 716v1M506 716v1M507 717v1M508 717v1M509 718v1M510 718v1M511 719v1M512 719v1M513 719v1M514 718v1M515 718v2M516 720v3M517 723v3M518 723v2M519 722v1M520 722v1M521 723v1M522 724v2M523 726v1M524 726v1M525 725v1M526 724v1M527 725v1M528 725v1M529 723v2M530 725v2M531 726v1M532 725v1M533 725v1M534 726v1M535 727v1M536 728v1M537 728v1M538 727v1M539 726v1M540 727v1M541 726v1M542 726v1M543 727v2M544 727v1M545 726v1M546 727v1M547 726v1M548 725v1M549 726v1M550 725v1M551 724v1M552 723v1M553 724v1M554 723v1M555 724v1M556 725v1M557 723v2M558 722v1"/><line class="ax" x1="156.5" y1="690" x2="156.5" y2="758"/><line class="ax" x1="156" y1="757.5" x2="559" y2="757.5"/><line class="ax" x1="233.5" y1="753" x2="233.5" y2="758"/><line class="ax" x1="329.5" y1="753" x2="329.5" y2="758"/><line class="ax" x1="425.5" y1="753" x2="425.5" y2="758"/><line class="ax" x1="522.5" y1="753" x2="522.5" y2="758"/><line class="ax" x1="156" y1="700.5" x2="161" y2="700.5"/><text x="150" y="711" font-size="23.33" text-anchor="end">25</text><line class="ax" x1="156" y1="716.5" x2="161" y2="716.5"/><text x="150" y="727" font-size="23.33" text-anchor="end">20</text><line class="ax" x1="156" y1="732.5" x2="161" y2="732.5"/><text x="150" y="743" font-size="23.33" text-anchor="end">15</text><line class="ax" x1="156" y1="748.5" x2="161" y2="748.5"/><text x="150" y="759" font-size="23.33" text-anchor="end">10</text><text x="233" y="792.5" font-size="23.33" text-anchor="middle">2440</text><text x="329" y="792.5" font-size="23.33" text-anchor="middle">2445</text><text x="425" y="792.5" font-size="23.33" text-anchor="middle">2450</text><text x="522" y="792.5" font-size="23.33" text-anchor="middle">2455</text><text x="356.2" y="669.8" font-size="24.3" text-anchor="middle">Bin 7</text><text x="355.5" y="830.5" font-size="24.3" text-anchor="middle">Wavenumber [cm<tspan font-size="20" dy="-11.5">-1</tspan><tspan dy="11.5">]</tspan></text><text transform="translate(109,726) rotate(-90)" font-size="24.6" text-anchor="middle">ADU</text></g>
<g><line class="gr" x1="762.5" y1="753" x2="762.5" y2="690"/><line class="gr" x1="858.5" y1="750" x2="858.5" y2="690"/><line class="gr" x1="954.5" y1="752" x2="954.5" y2="690"/><line class="gr" x1="1050.5" y1="749" x2="1050.5" y2="690"/><line class="gr" x1="690" y1="738.5" x2="1086" y2="738.5"/><line class="gr" x1="688" y1="699.5" x2="1086" y2="699.5"/><path class="cv" d="M683 756v1M684 756v1M685 757v1M686 757v1M687 757v1M688 757v1M689 756v1M690 756v1M691 756v1M692 756v1M693 755v1M694 755v1M695 754v1M696 753v1M697 753v1M698 752v1M699 751v1M700 752v2M701 754v1M702 753v1M703 752v1M704 751v1M705 750v1M706 749v1M707 748v1M708 747v1M709 747v1M710 746v1M711 746v1M712 745v1M713 745v1M714 746v1M715 746v1M716 746v1M717 746v1M718 746v1M719 746v1M720 745v1M721 745v1M722 743v2M723 742v1M724 740v2M725 739v1M726 740v2M727 740v1M728 739v1M729 738v1M730 738v1M731 739v1M732 738v1M733 737v1M734 736v1M735 735v1M736 735v1M737 735v1M738 736v1M739 734v2M740 732v2M741 731v1M742 732v2M743 734v1M744 732v2M745 731v1M746 731v1M747 731v1M748 730v1M749 729v1M750 730v1M751 730v1M752 728v2M753 726v2M754 724v2M755 726v3M756 727v1M757 726v1M758 727v1M759 725v2M760 724v1M761 723v1M762 723v1M763 724v1M764 723v1M765 722v1M766 723v2M767 722v2M768 721v2M769 723v2M770 725v2M771 724v2M772 722v2M773 721v1M774 719v2M775 718v1M776 716v2M777 715v1M778 716v2M779 718v2M780 720v2M781 722v2M782 722v1M783 720v2M784 719v1M785 718v1M786 716v2M787 715v1M788 714v1M789 712v2M790 711v1M791 712v1M792 711v1M793 710v1M794 709v2M795 711v2M796 713v2M797 715v2M798 714v2M799 713v1M800 712v1M801 712v1M802 713v2M803 711v2M804 709v2M805 707v2M806 706v1M807 706v1M808 704v2M809 705v1M810 704v1M811 704v1M812 705v1M813 706v1M814 707v1M815 707v1M816 706v1M817 706v1M818 707v2M819 708v3M820 705v3M821 707v2M822 708v1M823 709v1M824 708v2M825 706v2M826 704v2M827 705v1M828 704v1M829 703v1M830 702v1M831 702v1M832 701v1M833 701v1M834 700v1M835 698v4M836 694v4M837 697v4M838 696v3M839 694v2M840 696v3M841 696v2M842 695v1M843 695v1M844 695v1M845 695v1M846 695v1M847 696v1M848 697v1M849 697v1M850 697v3M851 700v4M852 704v3M853 702v3M854 703v1M855 703v1M856 704v1M857 704v1M858 704v1M859 702v2M860 699v3M861 697v2M862 697v2M863 694v3M864 692v2M865 694v3M866 692v3M867 694v3M868 695v1M869 694v1M870 693v1M871 692v1M872 691v1M873 690v1M874 691v1M875 692v1M876 693v1M877 694v1M878 695v1M879 696v2M880 696v3M881 692v4M882 694v4M883 698v3M884 696v3M885 698v2M886 700v2M887 699v2M888 698v1M889 699v1M890 699v1M891 698v1M892 697v1M893 698v2M894 695v3M895 697v2M896 697v1M897 696v1M898 694v2M899 692v2M900 694v2M901 696v1M902 697v1M903 698v1M904 699v1M905 699v1M906 699v1M907 699v1M908 700v2M909 698v2M910 698v1M911 698v1M912 698v1M913 698v1M914 698v1M915 699v1M916 699v1M917 698v1M918 698v1M919 696v2M920 694v2M921 695v1M922 695v1M923 693v2M924 694v1M925 694v1M926 693v1M927 693v1M928 692v1M929 693v1M930 694v2M931 696v1M932 696v1M933 696v1M934 694v2M935 695v1M936 696v1M937 697v1M938 698v2M939 700v1M940 701v1M941 701v1M942 700v1M943 699v1M944 698v1M945 698v1M946 699v1M947 699v1M948 698v2M949 696v2M950 694v2M951 693v1M952 693v1M953 693v2M954 691v2M955 692v2M956 694v1M957 694v1M958 695v1M959 694v2M960 691v5M961 696v6M962 698v2M963 696v2M964 695v1M965 695v1M966 696v2M967 698v2M968 697v2M969 695v2M970 696v2M971 697v1M972 697v1M973 697v2M974 699v3M975 702v3M976 705v2M977 707v1M978 708v1M979 709v1M980 710v1M981 709v1M982 707v2M983 705v2M984 702v3M985 700v2M986 701v1M987 702v1M988 703v2M989 705v2M990 707v1M991 708v1M992 709v1M993 710v1M994 711v1M995 710v1M996 709v1M997 708v1M998 706v2M999 705v1M1000 706v1M1001 707v1M1002 707v1M1003 707v1M1004 707v1M1005 706v1M1006 706v2M1007 708v2M1008 710v2M1009 712v2M1010 714v2M1011 716v1M1012 717v1M1013 716v1M1014 715v1M1015 714v1M1016 714v1M1017 713v1M1018 712v1M1019 712v1M1020 711v1M1021 710v1M1022 710v1M1023 709v1M1024 710v1M1025 711v2M1026 713v2M1027 713v1M1028 713v1M1029 714v1M1030 714v1M1031 715v2M1032 717v3M1033 720v2M1034 717v3M1035 718v1M1036 719v1M1037 719v1M1038 719v1M1039 719v1M1040 720v2M1041 722v1M1042 720v2M1043 719v2M1044 721v3M1045 721v2M1046 722v2M1047 724v1M1048 725v2M1049 727v2M1050 726v2M1051 725v1M1052 725v1M1053 725v1M1054 726v2M1055 728v2M1056 729v1M1057 728v1M1058 728v1M1059 728v1M1060 728v1M1061 727v1M1062 727v1M1063 728v1M1064 728v1M1065 729v1M1066 730v2M1067 729v2M1068 729v1M1069 730v1M1070 730v1M1071 731v1M1072 731v1M1073 732v1M1074 733v1M1075 732v1M1076 731v1M1077 730v1M1078 730v1M1079 731v2M1080 729v2M1081 728v1M1082 728v1M1083 727v1M1084 728v1M1085 726v2"/><line class="ax" x1="683.5" y1="690" x2="683.5" y2="758"/><line class="ax" x1="683" y1="757.5" x2="1086" y2="757.5"/><line class="ax" x1="762.5" y1="753" x2="762.5" y2="758"/><line class="ax" x1="858.5" y1="753" x2="858.5" y2="758"/><line class="ax" x1="954.5" y1="753" x2="954.5" y2="758"/><line class="ax" x1="1050.5" y1="753" x2="1050.5" y2="758"/><line class="ax" x1="683" y1="699.5" x2="688" y2="699.5"/><text x="677" y="710" font-size="23.33" text-anchor="end">10</text><line class="ax" x1="683" y1="738.5" x2="688" y2="738.5"/><text x="677" y="749" font-size="23.33" text-anchor="end">5</text><text x="762" y="792.5" font-size="23.33" text-anchor="middle">2440</text><text x="858" y="792.5" font-size="23.33" text-anchor="middle">2445</text><text x="954" y="792.5" font-size="23.33" text-anchor="middle">2450</text><text x="1050" y="792.5" font-size="23.33" text-anchor="middle">2455</text><text x="883.2" y="669.8" font-size="24.3" text-anchor="middle">Bin 8</text><text x="882.5" y="830.5" font-size="24.3" text-anchor="middle">Wavenumber [cm<tspan font-size="20" dy="-11.5">-1</tspan><tspan dy="11.5">]</tspan></text><text transform="translate(636,726) rotate(-90)" font-size="24.6" text-anchor="middle">ADU</text></g>
</svg></body></html>
